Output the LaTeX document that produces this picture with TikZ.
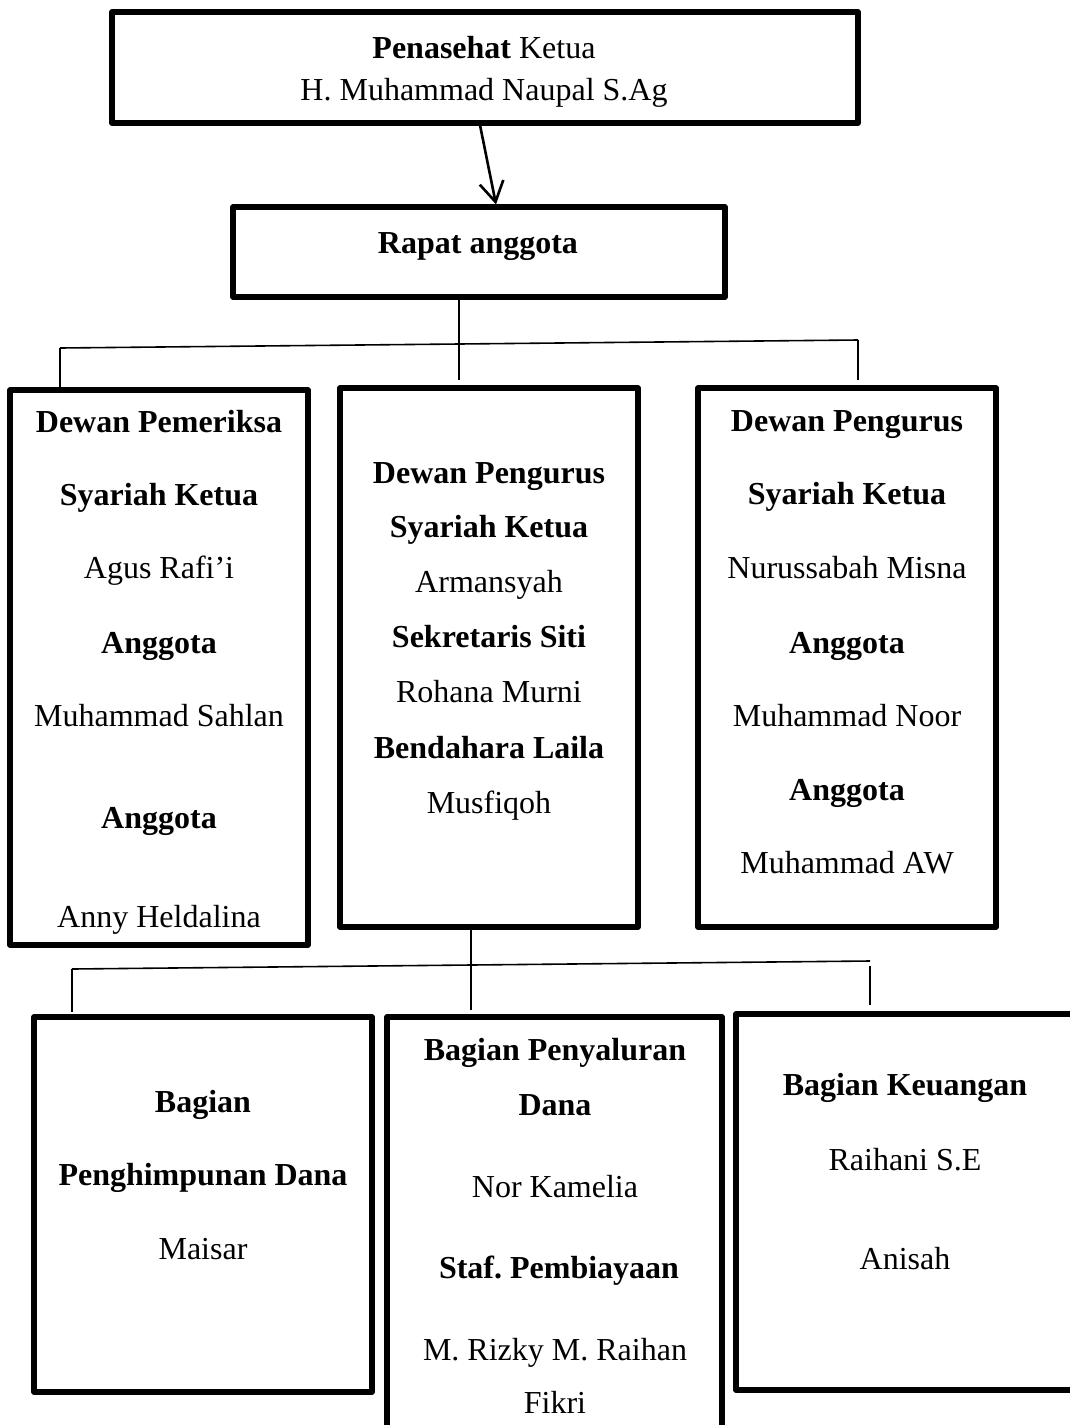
\documentclass[tikz,border=0pt]{standalone}
\usepackage{fontspec}
\setmainfont{Liberation Serif}
\usetikzlibrary{arrows.meta,fit}
\frenchspacing

\tikzset{
  box/.style={draw, line width=2.6pt, inner sep=0pt, line join=round},
  link/.style={draw, line width=0.8pt},
  txt/.style={anchor=base, inner sep=0pt, font=\fontsize{16}{19}\selectfont},
  btxt/.style={txt, font=\fontsize{16}{19}\selectfont\bfseries}
}

\begin{document}
\begin{tikzpicture}[x=0.5pt,y=-0.5pt]
  \useasboundingbox (0,0) rectangle (1070,1425);
  \clip (0,0) rectangle (1070,1425);

  % kotak-kotak
  \node (penasehat) [box, fit={(112,12) (858,123)}] {};
  \node (rapat) [box, fit={(233,207) (725,297)}] {};
  \node (pemeriksa) [box, fit={(10,390) (308,945)}] {};
  \node (pengurus) [box, fit={(340,388) (638,927)}] {};
  \node (syariah) [box, fit={(698,388) (996,927)}] {};
  \node (himpun) [box, fit={(34,1017) (372,1392)}] {};
  \node (salur) [box, fit={(387,1017) (722,1460)}] {};
  \node (uang) [box, fit={(736,1014) (1100,1390)}] {};

  % teks
  \node (t1) [txt] at (484,58) {\textbf{Penasehat} Ketua};
  \node (t2) [txt] at (484,100) {H. Muhammad Naupal S.Ag};
  \node (t3) [btxt] at (478,253) {Rapat anggota};

  \node (a1) [btxt] at (159,432) {Dewan Pemeriksa};
  \node (a2) [btxt] at (159,505) {Syariah Ketua};
  \node (a3) [txt] at (159,578) {Agus Rafi’i};
  \node (a4) [btxt] at (159,653) {Anggota};
  \node (a5) [txt] at (159,726) {Muhammad Sahlan};
  \node (a6) [btxt] at (159,828) {Anggota};
  \node (a7) [txt] at (159,927) {Anny Heldalina};

  \node (b1) [btxt] at (489,483) {Dewan Pengurus};
  \node (b2) [btxt] at (489,537) {Syariah Ketua};
  \node (b3) [txt] at (489,592) {Armansyah};
  \node (b4) [btxt] at (489,647) {Sekretaris Siti};
  \node (b5) [txt] at (489,702) {Rohana Murni};
  \node (b6) [btxt] at (489,758) {Bendahara Laila};
  \node (b7) [txt] at (489,813) {Musfiqoh};

  \node (c1) [btxt] at (847,431) {Dewan Pengurus};
  \node (c2) [btxt] at (847,504) {Syariah Ketua};
  \node (c3) [txt] at (847,578) {Nurussabah Misna};
  \node (c4) [btxt] at (847,653) {Anggota};
  \node (c5) [txt] at (847,726) {Muhammad Noor};
  \node (c6) [btxt] at (847,800) {Anggota};
  \node (c7) [txt] at (847,873) {Muhammad AW};

  \node (d1) [btxt] at (203,1112) {Bagian};
  \node (d2) [btxt] at (203,1185) {Penghimpunan Dana};
  \node (d3) [txt] at (203,1259) {Maisar};

  \node (e1) [btxt] at (555,1060) {Bagian Penyaluran};
  \node (e2) [btxt] at (555,1115) {Dana};
  \node (e3) [txt] at (555,1197) {Nor Kamelia};
  \node (e4) [btxt] at (559,1278) {Staf. Pembiayaan};
  \node (e5) [txt] at (555,1360) {M. Rizky M. Raihan};
  \node (e6) [txt] at (555,1413) {Fikri};

  \node (f1) [btxt] at (905,1095) {Bagian Keuangan};
  \node (f2) [txt] at (905,1170) {Raihani S.E};
  \node (f3) [txt] at (905,1269) {Anisah};

  % garis penghubung atas
  \draw[link, line width=1.3pt, -{Straight Barb[length=10pt,width=12pt,line width=1.3pt]}]
    (480,125) -- (rapat.north -| 496,0);
  \coordinate (m1) at (459,380);
  \coordinate (l1) at (60,348);
  \coordinate (r1) at (858,340);
  \draw[link] (rapat.south -| m1) -- (m1);
  \draw[link] (l1) -- (r1);
  \draw[link] (l1) -- (pemeriksa.north -| l1);
  \draw[link] (r1) -- (858,380);

  % garis penghubung bawah
  \coordinate (m2) at (471,1010);
  \coordinate (l2) at (72,969);
  \coordinate (r2) at (870,961);
  \draw[link] (pengurus.south -| m2) -- (m2);
  \draw[link] (l2) -- (r2);
  \draw[link] (l2) -- (72,1012);
  \draw[link] (870,966) -- (870,1005);
\end{tikzpicture}
\end{document}
